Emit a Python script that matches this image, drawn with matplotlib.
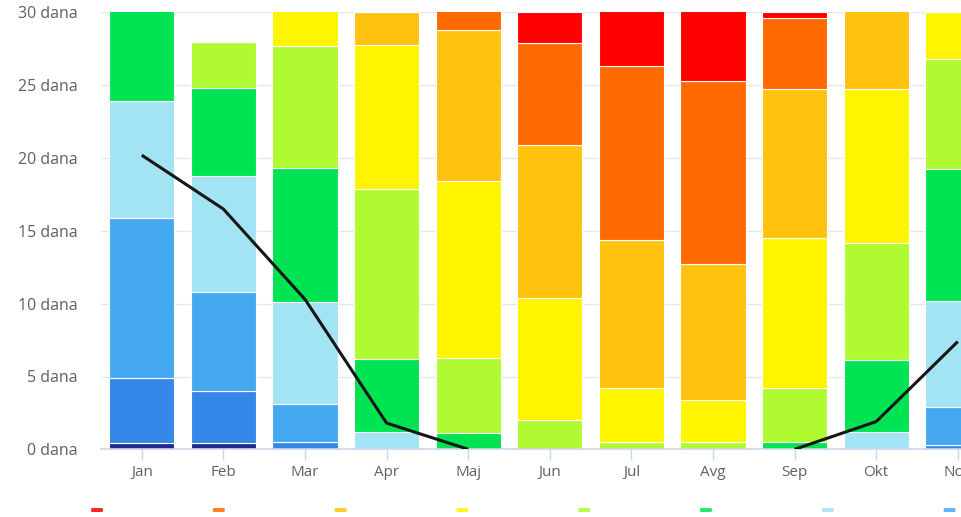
import numpy as np
import matplotlib
matplotlib.use("Agg")
import matplotlib.pyplot as plt
from matplotlib.patches import FancyBboxPatch

months = ["Jan", "Feb", "Mar", "Apr", "Maj", "Jun", "Jul", "Avg", "Sep", "Okt", "Nov"]

# Days per month in each temperature class (stacked bottom to top)
navy       = [0.4, 0.4, 0.0, 0.0, 0.0, 0.0, 0.0, 0.0, 0.0, 0.0, 0.0]
dark_blue  = [4.5, 3.6, 0.5, 0.0, 0.0, 0.0, 0.0, 0.0, 0.0, 0.0, 0.3]
blue       = [11.0, 6.8, 2.6, 0.0, 0.0, 0.0, 0.0, 0.0, 0.0, 0.0, 2.6]
light_blue = [8.0, 8.0, 7.0, 1.2, 0.0, 0.0, 0.0, 0.0, 0.0, 1.2, 7.3]
green      = [7.1, 6.0, 9.2, 5.0, 1.1, 0.0, 0.0, 0.0, 0.5, 4.9, 9.05]
yellow_grn = [0.0, 3.2, 8.4, 11.7, 5.2, 2.0, 0.5, 0.5, 3.7, 8.05, 7.55]
yellow     = [0.0, 0.0, 3.3, 9.85, 12.1, 8.4, 3.7, 2.9, 10.3, 10.6, 3.2]
gold       = [0.0, 0.0, 0.0, 2.25, 10.4, 10.5, 10.2, 9.3, 10.25, 6.25, 0.0]
orange     = [0.0, 0.0, 0.0, 0.0, 2.2, 7.0, 11.9, 12.6, 4.85, 0.0, 0.0]
red        = [0.0, 0.0, 0.0, 0.0, 0.0, 2.1, 4.7, 5.7, 0.4, 0.0, 0.0]

# Average line (days)
line_vals = [20.2, 16.5, 10.3, 1.8, 0.0, np.nan, np.nan, np.nan, 0.0, 1.9, 7.4]

series = [
    ("< -10°C", navy, "#1f2a8c"),
    ("-10 do -5°C", dark_blue, "#3688e8"),
    ("-5 do 0°C", blue, "#45a9f2"),
    ("0 do 5°C", light_blue, "#a2e3f4"),
    ("5 do 10°C", green, "#00e454"),
    ("10 do 15°C", yellow_grn, "#b0fa32"),
    ("15 do 20°C", yellow, "#fff500"),
    ("20 do 25°C", gold, "#ffc30f"),
    ("25 do 30°C", orange, "#ff6a00"),
    ("> 30°C", red, "#ff0000"),
]

W, H = 961, 517
fig = plt.figure(figsize=(W / 100, H / 100), dpi=100)
fig.patch.set_facecolor("white")

left_px, plot_w = 101, 11 * 81.6
bottom_px, top_px = 449.3, 12.5
ax = fig.add_axes([left_px / W, (H - bottom_px) / H, plot_w / W, (bottom_px - top_px) / H])

x = np.arange(len(months))
base = np.zeros(len(months))
for name, vals, col in series:
    v = np.array(vals, dtype=float)
    ax.bar(x, v, bottom=base, width=0.8, color=col, edgecolor="white",
           linewidth=0.8, zorder=2, label=name)
    base += v

ax.plot(x, line_vals, color="#161616", linewidth=2.2, zorder=4, solid_capstyle="butt")

ax.set_xlim(-0.5, len(months) - 0.5)
ax.set_ylim(0, 30)
ax.set_yticks([0, 5, 10, 15, 20, 25, 30])
ax.set_yticklabels([f"{t} dana" for t in [0, 5, 10, 15, 20, 25, 30]])
ax.set_xticks(x)
ax.set_xticklabels(months)

for s in ["left", "right", "top"]:
    ax.spines[s].set_visible(False)
ax.spines["bottom"].set_color("#ccd6eb")
ax.spines["bottom"].set_linewidth(1.2)
ax.spines["bottom"].set_zorder(3)

ax.grid(axis="y", color="#e6e6e6", linewidth=1.0, zorder=0)
ax.set_axisbelow(True)

ax.tick_params(axis="y", length=0, pad=17, labelsize=11.5, labelcolor="#606060")
ax.tick_params(axis="x", length=8, width=1, color="#ccd6eb", pad=3,
               labelsize=11, labelcolor="#606060")
for lab in ax.get_yticklabels() + ax.get_xticklabels():
    lab.set_family("Open Sans")

# Legend symbols along the bottom edge (warm classes first)
leg_items = list(reversed(series))
for i, (name, vals, col) in enumerate(leg_items):
    cx = 97 + i * 121.8
    sym = FancyBboxPatch(((cx - 6) / W, (H - 512) / H), 12 / W, 4 / H,
                         boxstyle="round,pad=0,rounding_size=0.002",
                         transform=fig.transFigure, facecolor=col,
                         edgecolor="none", alpha=0.85)
    fig.add_artist(sym)

fig.savefig("out.png", dpi=100, facecolor="white")
